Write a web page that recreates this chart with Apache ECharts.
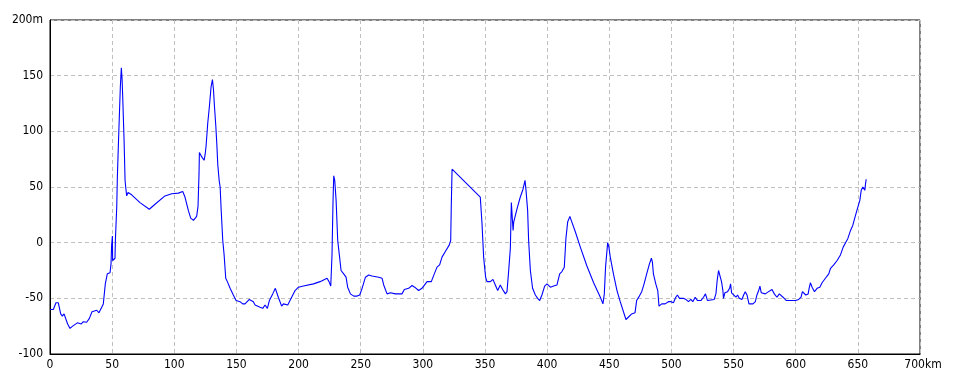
<!DOCTYPE html>
<html>
<head>
<meta charset="utf-8">
<script src="https://cdn.jsdelivr.net/npm/echarts@6/dist/echarts.min.js"></script>
<style>
html,body{margin:0;padding:0;background:#fff;}
#c{width:960px;height:384px;}
</style>
</head>
<body>
<div id="c"></div>
<script>
// Distance along route (km)
var distanceKm = [
  0, 2.7, 4.8, 6.7, 8.6, 9.9, 11.3, 12.3, 14.2, 16.1, 18.2, 22, 25.2, 26.8, 29.5, 31.7, 33.8, 37.6, 39.4, 40.8,
  42.9, 44.5, 46.1, 48.3, 49.1, 49.6, 50.2, 50.4, 51.5, 52.3, 52.6, 53.7, 54.2, 55, 55.8, 56.6, 57.4, 58, 58.5, 59.6,
  60.4, 60.9, 61.7, 62.8, 65.7, 72.4, 79.9, 84.5, 92.5, 97.9, 103.3, 106.8, 108.6, 111.3, 113.2, 115.4, 118, 119.1, 119.9, 120.2,
  122.1, 124, 124.8, 125.6, 126.9, 128.3, 129.6, 130.7, 131.5, 132.3, 133.4, 134.2, 135, 136.1, 136.9, 137.7, 139, 140.1, 141.4, 142.7,
  144.9, 147.5, 149.7, 152.9, 155, 156.9, 160.4, 163.6, 165, 169, 171.2, 173, 174.9, 176.5, 179.2, 181.3, 183.7, 186.4, 187.8, 189.1,
  191.3, 193.1, 197.2, 199.9, 203.9, 212, 217.3, 222.9, 224.5, 225.9, 226.9, 227.7, 228.3, 229.1, 230.2, 231.5, 232.8, 234.2, 236.3, 238.2,
  239.5, 241.7, 244.4, 247.1, 249.2, 251.1, 253.8, 256.4, 259.1, 264.5, 267.2, 268.5, 271.2, 273.9, 277.9, 283.2, 285.1, 288.6, 291.3, 293.4,
  296.6, 299.3, 303.4, 306.8, 309.2, 311.4, 313.5, 315.4, 318.1, 321.3, 322.4, 322.9, 323.5, 346.2, 347.6, 348.9, 350.5, 351.6, 354.3, 356.4,
  358.3, 360.2, 362.3, 364.2, 366.4, 367.7, 369.0, 370.4, 371.2, 372.0, 372.6, 373.1, 375.8, 378.4, 380.6, 382.2, 383, 384.3, 385.1, 386.5,
  388.3, 390.5, 392.4, 394, 395.8, 398, 399.9, 402.6, 405.2, 407.9, 410.1, 411.9, 413.8, 415.1, 416.5, 417.3, 418.3, 419.9, 422.6, 426.7,
  432, 437.4, 442.8, 444.9, 446, 447, 448.7, 449.7, 450.8, 453.5, 456.2, 458.8, 463.4, 465.3, 468, 470.7, 472, 474.2, 476.1, 478,
  480.1, 482.3, 483.9, 484.7, 485.5, 487.4, 489, 490, 490.9, 492.2, 494.9, 497.6, 499.7, 501.6, 503.5, 504.8, 506.5, 509.7, 511.6, 513.7,
  515.6, 517.2, 519.1, 521, 523.7, 525.8, 527.4, 529, 534.4, 535.8, 536.8, 537.9, 539.2, 540.3, 541.4, 541.9, 543, 545.2, 546.8, 547.6,
  548.4, 550, 551.9, 553.2, 554.6, 556.7, 558.1, 559.4, 560.8, 562.4, 565.6, 567.5, 568.8, 570.2, 571.2, 572.3, 575.5, 578.2, 580.9, 582.8,
  584.9, 586.8, 588.4, 589.8, 592.5, 595.7, 599.7, 602.4, 604.3, 605.4, 607, 608.1, 610, 610.8, 611.8, 613.2, 615.1, 617.2, 619.4, 621.2,
  623.9, 626.6, 628, 630.6, 633.3, 636, 638.2, 640.1, 641.9, 644.1, 645.9, 648.1, 650, 651.6, 652.7, 654, 655.6, 656.2, 656.7
];
// Elevation (m)
var elevationM = [
  -60, -60, -54, -54, -64, -66, -64, -65, -73, -77, -75, -72, -73, -71, -71.5, -68, -62, -60.7, -63, -62,
  -55, -37, -28, -27, -19, -2, 6, -16, -17, -14, 2, 32, 59, 87, 114, 140, 157, 147, 131, 92,
  56, 50, 42, 45, 43, 36, 30, 34.5, 42, 44, 44.5, 46, 41, 29, 22, 20, 23.6, 32.6, 62, 81,
  77, 74, 79, 87, 107, 123, 140, 146.5, 138, 123, 105, 89, 70, 56, 50, 30, 2, -11, -32, -35,
  -41, -47, -52, -53, -55, -55, -51, -53, -56, -58, -59, -56, -59, -52, -46, -41, -49, -57, -55, -54,
  -56, -52, -43, -40, -39, -37, -35, -32, -35, -39, -11, 36, 60, 56, 38, 2, -11, -25, -28, -31,
  -40, -46, -48, -48, -47, -41, -31, -29, -30, -31, -32, -38, -46, -45, -46, -46, -42, -41, -38.5, -40,
  -43, -41, -35, -35, -28, -22, -20, -13, -8, -2, 2, 35, 66, 41, 17, -13, -31, -35, -35, -33,
  -38, -43, -38, -42, -46, -44, -26, -5, 36, 21.5, 11, 18.5, 30.5, 41, 48, 56, 47, 29, 2, -25,
  -41, -47, -50, -52, -47, -39, -37, -40, -39, -38, -28, -26, -22, 3.6, 18.5, 17.6, 23.6, 18.5, 10, -4,
  -21, -36, -49, -55, -46, -22, 0, -4, -13, -29, -43, -53, -69, -67, -64, -63, -52, -48, -44, -37,
  -28, -19, -14, -17.5, -28, -37, -43, -57, -58, -55, -55, -53, -53, -54, -49, -47, -50, -50, -51, -53,
  -51, -53, -49, -52, -52, -49, -46, -52, -51, -46, -34, -25, -25, -35, -43, -50, -45, -44, -41, -37,
  -45, -45, -49, -47, -50, -51, -47, -44, -47, -55, -55, -53, -47, -43, -39, -45, -46, -44, -42, -46,
  -49, -46, -47, -49, -52, -52, -52, -51, -49, -44, -43, -47, -46, -41, -36, -40, -44, -41, -40, -36,
  -32, -28, -23, -20, -16, -11, -4, 0, 3.6, 11, 15.5, 24.5, 32, 38, 47, 50, 47, 53, 57
];
// Axis ticks
var xTicks = { min: 0, max: 700, interval: 50, unit: 'km' };
var yTicks = { min: -100, max: 200, interval: 50, unit: 'm' };

var points = distanceKm.map(function (d, i) { return [d, elevationM[i]]; });

var labelFont = "'Liberation Sans Narrow','DejaVu Sans Condensed','Liberation Sans',sans-serif";

var chart = echarts.init(document.getElementById('c'), null, { renderer: 'canvas' });
chart.setOption({
  animation: false,
  backgroundColor: '#ffffff',
  grid: {
    left: 50, right: 40, top: 20, bottom: 30,
    show: true, borderColor: '#000', borderWidth: 1, backgroundColor: 'transparent'
  },
  xAxis: {
    type: 'value',
    min: xTicks.min, max: xTicks.max, interval: xTicks.interval,
    axisLine: { show: true, onZero: false, lineStyle: { color: '#000', width: 1 } },
    axisTick: { show: false },
    splitLine: { show: true, lineStyle: { color: '#c0c0c0', type: [4, 3], width: 1 } },
    axisLabel: {
      color: '#000', fontSize: 12, fontFamily: labelFont, margin: 5,
      formatter: function (v) { return v === xTicks.max ? '{u|' + v + xTicks.unit + '}' : String(v); },
      rich: { u: { color: '#000', fontSize: 12, fontFamily: labelFont, padding: [0, 0, 0, 6] } }
    }
  },
  yAxis: {
    type: 'value',
    min: yTicks.min, max: yTicks.max, interval: yTicks.interval,
    axisLine: { show: true, onZero: false, lineStyle: { color: '#000', width: 1 } },
    axisTick: { show: false },
    splitLine: { show: true, lineStyle: { color: '#c0c0c0', type: [4, 3], width: 1 } },
    axisLabel: {
      color: '#000', fontSize: 12, fontFamily: labelFont, margin: 7,
      formatter: function (v) { return v === yTicks.max ? v + yTicks.unit : String(v); }
    }
  },
  series: [{
    type: 'line',
    data: points,
    showSymbol: false,
    symbol: 'none',
    lineStyle: { color: '#0000ff', width: 1.1 },
    clip: true
  }]
});
</script>
</body>
</html>
